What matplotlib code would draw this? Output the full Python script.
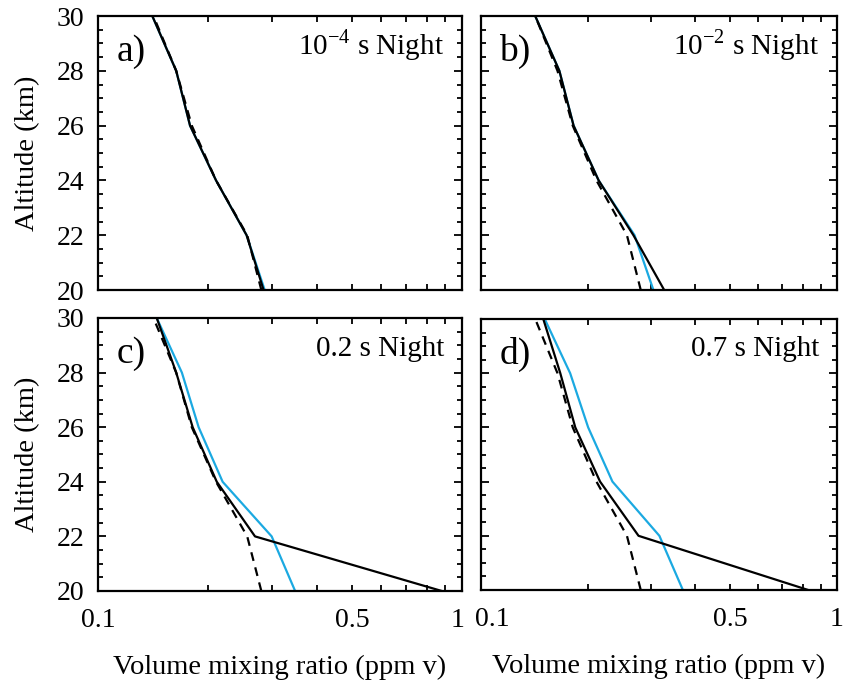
import numpy as np
import matplotlib.pyplot as plt
from matplotlib.ticker import FixedLocator, NullFormatter, FixedFormatter
from matplotlib.transforms import ScaledTranslation

plt.rcParams['font.family'] = 'Liberation Serif'
plt.rcParams['mathtext.fontset'] = 'custom'
plt.rcParams['mathtext.rm'] = 'Liberation Serif'

# altitude levels (km)
alt = [20, 22, 24, 26, 28, 30]

# initial profile (dashed), same in every panel
vmr_init = [0.281, 0.257, 0.211, 0.181, 0.164, 0.142]

# black solid / blue profiles for each time step
vmr_black_a = [0.285, 0.256, 0.211, 0.179, 0.164, 0.141]
vmr_blue_a = [0.287, 0.256, 0.211, 0.179, 0.164, 0.141]
vmr_black_b = [0.327, 0.268, 0.214, 0.182, 0.166, 0.142]
vmr_blue_b = [0.305, 0.270, 0.214, 0.182, 0.166, 0.142]
vmr_black_c = [0.88, 0.270, 0.212, 0.182, 0.164, 0.145]
vmr_blue_c = [0.348, 0.300, 0.220, 0.189, 0.170, 0.145]
vmr_black_d = [0.83, 0.277, 0.216, 0.184, 0.167, 0.1496]
vmr_blue_d = [0.369, 0.317, 0.234, 0.200, 0.178, 0.151]

letters = ['a)', 'b)', 'c)', 'd)']
titles = ['10$^{\\mathrm{-4}}$ s Night', '10$^{\\mathrm{-2}}$ s Night',
          '0.2 s Night', '0.7 s Night']
black = [vmr_black_a, vmr_black_b, vmr_black_c, vmr_black_d]
blue = [vmr_blue_a, vmr_blue_b, vmr_blue_c, vmr_blue_d]

W, H = 848, 683
fig = plt.figure(figsize=(W/100, H/100), dpi=100)

# panel boxes in pixels: left, top, right, bottom
boxes = [(98, 16, 462, 290), (481, 16, 837, 290),
         (98, 318, 462, 591), (481, 319, 837, 590)]

for i, (l, t, r, b) in enumerate(boxes):
    ax = fig.add_axes([l/W, 1 - b/H, (r - l)/W, (b - t)/H])
    ax.plot(blue[i], alt, color='#1ba9e1', lw=1.6, zorder=2)
    ax.plot(vmr_init, alt, color='black', lw=1.6, ls=(0, (4, 3)), zorder=3)
    ax.plot(black[i], alt, color='black', lw=1.6, zorder=4)

    ax.set_xscale('log')
    ax.set_xlim(0.1, 1)
    ax.set_ylim(20, 30)
    ax.xaxis.set_major_locator(FixedLocator([0.1, 0.5, 1]))
    ax.xaxis.set_minor_locator(FixedLocator([0.2, 0.3, 0.4, 0.6, 0.7, 0.8, 0.9]))
    ax.xaxis.set_minor_formatter(NullFormatter())
    ax.yaxis.set_major_locator(FixedLocator(np.arange(20, 31, 2)))
    ax.yaxis.set_minor_locator(FixedLocator(np.arange(20, 30.1, 0.5)))

    ax.tick_params(which='both', direction='in', top=True, right=True,
                   width=1.3, labelsize=20)
    ax.tick_params(axis='x', which='both', length=4, pad=12)
    ax.tick_params(axis='y', which='major', length=6, pad=10)
    ax.tick_params(axis='y', which='minor', length=3.5)
    for s in ax.spines.values():
        s.set_linewidth(1.6)

    if i < 2:
        ax.set_xticklabels([])
    else:
        ax.xaxis.set_major_formatter(FixedFormatter(['0.1', '0.5', '1']))
        ax.set_xlabel('Volume mixing ratio (ppm v)', fontsize=20.5, labelpad=16)
        # nudge the edge labels so "1" and "0.1" of neighbouring panels don't collide
        ticks = ax.xaxis.get_major_ticks()
        if i == 2:
            lab = ticks[2].label1
            lab.set_transform(lab.get_transform() + ScaledTranslation(-0.04, 0, fig.dpi_scale_trans))
        else:
            lab = ticks[0].label1
            lab.set_transform(lab.get_transform() + ScaledTranslation(0.11, 0, fig.dpi_scale_trans))
    if i % 2 == 1:
        ax.set_yticklabels([])
    else:
        ax.set_ylabel('Altitude (km)', fontsize=20.5, labelpad=12)

    ax.text(0.052, 0.835, letters[i], transform=ax.transAxes, fontsize=27,
            va='baseline', ha='left')
    ax.text(0.95, 0.862, titles[i], transform=ax.transAxes, fontsize=21,
            va='baseline', ha='right')

fig.savefig('out.png', dpi=100)
